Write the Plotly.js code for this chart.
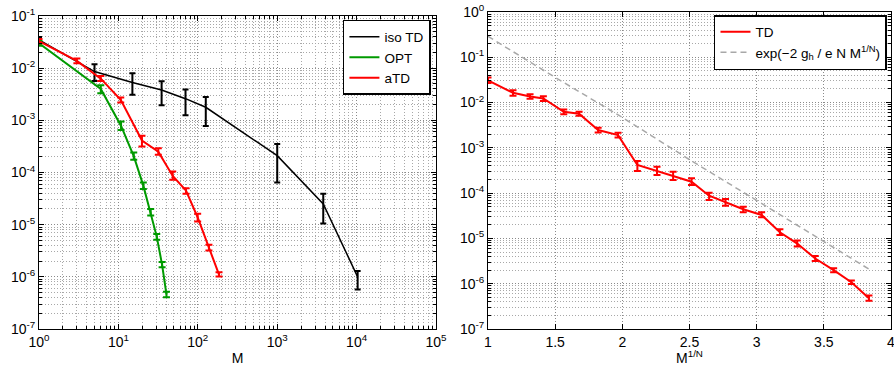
<!DOCTYPE html>
<html>
<head>
<meta charset="utf-8">
<script src="https://cdn.plot.ly/plotly-3.0.1.min.js"></script>
<style>html,body{margin:0;padding:0;background:#fff;}#chart{width:894px;height:366px;}</style>
</head>
<body>
<div id="chart"></div>
<script>
// ---- Left panel data (M vs error) ----
const isoM   = [1, 5, 15, 35, 70, 126, 1000, 3800, 10300];
const isoY   = [0.035, 0.0086, 0.0053, 0.0038, 0.0026, 0.00178, 2.1e-4, 2.5e-5, 1.0e-6];
const isoHi  = [0.039, 0.0119, 0.0080, 0.0056, 0.0039, 0.0028, 3.5e-4, 3.9e-5, 1.3e-6];
const isoLo  = [0.031, 0.0057, 0.0031, 0.00195, 0.00125, 0.00078, 6.4e-5, 1.05e-5, 5.7e-7];

const optM   = [1, 6, 10.8, 15.6, 20.6, 25.5, 30.4, 35.5, 40.3];
const optY   = [0.030, 0.0040, 7.8e-4, 2.06e-4, 5.6e-5, 1.74e-5, 5.9e-6, 1.7e-6, 4.6e-7];
const optHi  = [0.033, 0.0047, 9.5e-4, 2.42e-4, 6.45e-5, 2.0e-5, 6.6e-6, 1.92e-6, 5.2e-7];
const optLo  = [0.027, 0.0033, 6.56e-4, 1.75e-4, 4.8e-5, 1.5e-5, 5.15e-6, 1.52e-6, 4.05e-7];

const atdM   = [1, 3, 6, 10.7, 19.8, 31.8, 48.3, 71, 99.6, 138, 185];
const atdY   = [0.033, 0.0138, 0.0063, 0.00247, 4.1e-4, 2.5e-4, 8.6e-5, 4.5e-5, 1.38e-5, 3.6e-6, 1.1e-6];
const atdHi  = [0.0363, 0.01525, 0.0071, 0.00274, 5.05e-4, 2.93e-4, 1.05e-4, 5.0e-5, 1.62e-5, 4.13e-6, 1.22e-6];
const atdLo  = [0.030, 0.0124, 0.0057, 0.00219, 3.15e-4, 2.18e-4, 7.25e-5, 3.9e-5, 1.15e-5, 3.2e-6, 1.02e-6];

// ---- Right panel data (M^{1/N} vs error) ----
const tdX  = [1.0, 1.186, 1.313, 1.412, 1.564, 1.678, 1.82, 1.968, 2.112, 2.258, 2.378, 2.515, 2.646, 2.768, 2.9, 3.037, 3.173, 3.302, 3.436, 3.573, 3.705, 3.836];
const tdY  = [0.031, 0.0164, 0.0136, 0.0123, 0.00625, 0.00565, 0.00247, 0.00191, 4.2e-4, 3.1e-4, 2.43e-4, 1.79e-4, 8.8e-5, 6.3e-5, 4.4e-5, 3.3e-5, 1.37e-5, 7.7e-6, 3.6e-6, 2.0e-6, 1.08e-6, 4.8e-7];
const tdHi = [0.0357, 0.01876, 0.0153, 0.01384, 0.00703, 0.00625, 0.00277, 0.00215, 5.1e-4, 3.83e-4, 2.97e-4, 2.12e-4, 1.02e-4, 7.43e-5, 5.03e-5, 3.78e-5, 1.59e-5, 8.95e-6, 4.11e-6, 2.2e-6, 1.18e-6, 5.5e-7];
const tdLo = [0.0272, 0.01406, 0.0121, 0.0109, 0.00555, 0.0051, 0.00219, 0.0017, 3.08e-4, 2.51e-4, 1.95e-4, 1.51e-4, 7.06e-5, 5.3e-5, 3.78e-5, 2.93e-5, 1.19e-5, 6.6e-6, 3.19e-6, 1.8e-6, 9.9e-7, 4.2e-7];

const expX = [1.0, 1.5, 2.0, 2.5, 3.0, 3.5, 3.836];
const expY = [0.29, 0.036, 4.7e-3, 5.5e-4, 6.9e-5, 8.5e-6, 2.1e-6];

// ---- Tick labels ----
const leftXTickVals  = [1, 10, 100, 1000, 10000, 100000];
const leftXTickText  = ['10<sup>0</sup>','10<sup>1</sup>','10<sup>2</sup>','10<sup>3</sup>','10<sup>4</sup>','10<sup>5</sup>'];
const leftYTickVals  = [1e-7, 1e-6, 1e-5, 1e-4, 1e-3, 1e-2, 1e-1];
const leftYTickText  = ['10<sup>-7</sup>','10<sup>-6</sup>','10<sup>-5</sup>','10<sup>-4</sup>','10<sup>-3</sup>','10<sup>-2</sup>','10<sup>-1</sup>'];
const rightXTickVals = [1, 1.5, 2, 2.5, 3, 3.5, 4];
const rightXTickText = ['1','1.5','2','2.5','3','3.5','4'];
const rightYTickVals = [1e-7, 1e-6, 1e-5, 1e-4, 1e-3, 1e-2, 1e-1, 1];
const rightYTickText = ['10<sup>-7</sup>','10<sup>-6</sup>','10<sup>-5</sup>','10<sup>-4</sup>','10<sup>-3</sup>','10<sup>-2</sup>','10<sup>-1</sup>','10<sup>0</sup>'];

function minorLog(lo, hi) {
  const out = [];
  for (let d = lo; d < hi; d++) for (let k = 2; k <= 9; k++) out.push(k * Math.pow(10, d));
  return out;
}
const plus  = (hi, y) => hi.map((h, i) => h - y[i]);
const minus = (lo, y) => lo.map((l, i) => y[i] - l);

function errbar(hi, lo, y, color, th, w) {
  return {type: 'data', symmetric: false, array: plus(hi, y), arrayminus: minus(lo, y),
          color: color, thickness: th, width: w};
}

const traces = [
  {x: isoM, y: isoY, name: 'iso TD', mode: 'lines', line: {color: '#000', width: 1.5},
   error_y: errbar(isoHi, isoLo, isoY, '#000', 2, 3), xaxis: 'x', yaxis: 'y', legend: 'legend'},
  {x: optM, y: optY, name: 'OPT', mode: 'lines', line: {color: '#009a00', width: 2},
   error_y: errbar(optHi, optLo, optY, '#009a00', 2, 3.5), xaxis: 'x', yaxis: 'y', legend: 'legend'},
  {x: atdM, y: atdY, name: 'aTD', mode: 'lines', line: {color: '#ff0000', width: 2},
   error_y: errbar(atdHi, atdLo, atdY, '#ff0000', 2, 3.5), xaxis: 'x', yaxis: 'y', legend: 'legend'},
  {x: tdX, y: tdY, name: 'TD', mode: 'lines', line: {color: '#ff0000', width: 2},
   error_y: errbar(tdHi, tdLo, tdY, '#ff0000', 2, 3.5), xaxis: 'x2', yaxis: 'y2', legend: 'legend2'},
  {x: expX, y: expY, name: 'exp(\u22122 g<sub>h</sub> / e N M<sup>1/N</sup>)', mode: 'lines',
   line: {color: '#a8a8a8', width: 1.5, dash: '6px,4px'}, xaxis: 'x2', yaxis: 'y2', legend: 'legend2'}
];

const font = {family: 'Liberation Sans, Arial, Helvetica, sans-serif', size: 14, color: '#000'};
const legFont = {family: 'Liberation Sans, Arial, Helvetica, sans-serif', size: 13.5, color: '#000'};
const gridMajor = '#8a8a8a';
const gridMinor = '#a8a8a8';
const dotDash = '1px,2px';

function axisBase(extra) {
  return Object.assign({
    showline: true, linecolor: '#000', linewidth: 1, mirror: 'allticks',
    ticks: 'inside', ticklen: 5, tickcolor: '#000', tickwidth: 1,
    showgrid: true, gridcolor: gridMajor, griddash: dotDash, gridwidth: 1,
    zeroline: false, tickmode: 'array', tickfont: font, automargin: false,
    ticklabeloverflow: 'allow'
  }, extra);
}
function minorBase(vals) {
  return {tickmode: 'array', tickvals: vals, ticks: 'inside', ticklen: 3, tickcolor: '#000',
          showgrid: true, gridcolor: gridMinor, griddash: dotDash, gridwidth: 1};
}

const layout = {
  width: 894, height: 366,
  margin: {l: 39, r: 3, t: 12, b: 37},
  paper_bgcolor: '#fff', plot_bgcolor: '#fff',
  font: font,
  showlegend: true,
  xaxis: axisBase({
    type: 'log', domain: [0, 0.466], range: [-0.00001, 5.00001], anchor: 'y',
    tickvals: leftXTickVals, ticktext: leftXTickText,
    minor: minorBase(minorLog(0, 5)),
    title: {text: 'M', font: font, standoff: 4}
  }),
  yaxis: axisBase({
    type: 'log', domain: [0, 0.9874], range: [-7.00001, -0.99999], anchor: 'x',
    tickvals: leftYTickVals, ticktext: leftYTickText,
    minor: minorBase(minorLog(-7, -1))
  }),
  xaxis2: axisBase({
    type: 'linear', domain: [0.527, 1], range: [0.99999, 4.00001], anchor: 'y2',
    tickvals: rightXTickVals, ticktext: rightXTickText,
    title: {text: 'M<sup>1/N</sup>', font: font, standoff: 2}
  }),
  yaxis2: axisBase({
    type: 'log', domain: [0, 1], range: [-7.00001, 0.00001], anchor: 'x2',
    tickvals: rightYTickVals, ticktext: rightYTickText,
    minor: minorBase(minorLog(-7, 0))
  }),
  legend: {
    x: 0.460, y: 0.975, xanchor: 'right', yanchor: 'top',
    bgcolor: '#fff', bordercolor: '#000', borderwidth: 1.5,
    font: legFont, tracegroupgap: 0, itemwidth: 30
  },
  legend2: {
    x: 0.9953, y: 0.9905, xanchor: 'right', yanchor: 'top',
    bgcolor: '#fff', bordercolor: '#000', borderwidth: 1.5,
    font: legFont, tracegroupgap: 0, itemwidth: 30
  }
};

Plotly.newPlot('chart', traces, layout, {staticPlot: true, displayModeBar: false});
</script>
</body>
</html>
